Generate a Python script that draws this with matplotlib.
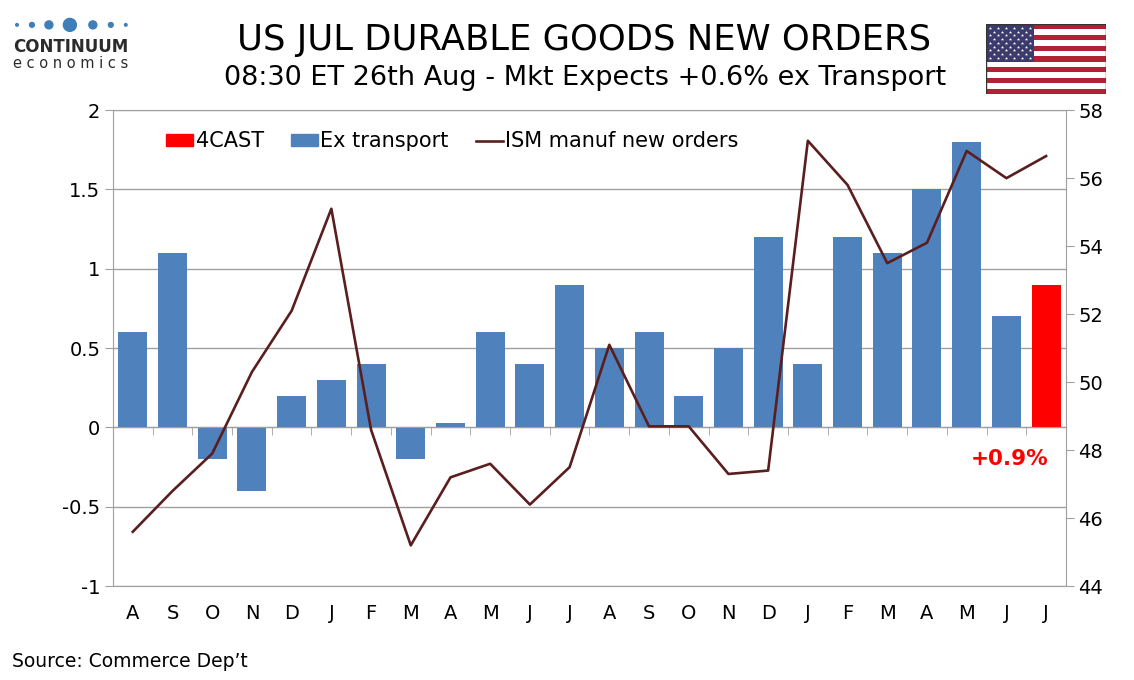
import matplotlib.pyplot as plt
from matplotlib.patches import Patch, Rectangle, Circle
from matplotlib.lines import Line2D

# Datos
meses = ["A", "S", "O", "N", "D", "J", "F", "M", "A", "M", "J", "J",
         "A", "S", "O", "N", "D", "J", "F", "M", "A", "M", "J", "J"]
ex_transport = [0.6, 1.1, -0.2, -0.4, 0.2, 0.3, 0.4, -0.2, 0.03, 0.6, 0.4, 0.9,
                0.5, 0.6, 0.2, 0.5, 1.2, 0.4, 1.2, 1.1, 1.5, 1.8, 0.7]
cast = [0.9]
ism_new_orders = [45.6, 46.8, 47.9, 50.3, 52.1, 55.1, 48.6, 45.2, 47.2, 47.6, 46.4, 47.5,
                  51.1, 48.7, 48.7, 47.3, 47.4, 57.1, 55.8, 53.5, 54.1, 56.8, 56.0, 56.65]
yticks_izq = [-1, -0.5, 0, 0.5, 1, 1.5, 2]
ytick_labels_izq = ["-1", "-0.5", "0", "0.5", "1", "1.5", "2"]
yticks_der = [44, 46, 48, 50, 52, 54, 56, 58]

azul = "#4F81BD"
rojo = "#FF0000"
granate = "#5A1E1E"
gris = "#A0A0A0"

plt.rcParams['font.family'] = ['DejaVu Sans']

fig = plt.figure(figsize=(11.34, 6.8), dpi=100)
ax = fig.add_axes([0.0996, 0.138, 0.8404, 0.7])
ax2 = ax.twinx()

n = len(meses)
x = list(range(n))
ax.bar(x[:len(ex_transport)], ex_transport, width=0.73, color=azul, zorder=2)
ax.bar(x[len(ex_transport):], cast, width=0.73, color=rojo, zorder=2)

ax2.plot(x, ism_new_orders, color=granate, linewidth=1.9)

# eje izquierdo
ax.set_ylim(-1, 2)
ax.set_xlim(-0.5, n - 0.5)
ax.set_yticks(yticks_izq)
ax.set_yticklabels(ytick_labels_izq)
ax.yaxis.grid(True, color=gris, linewidth=1.0, zorder=0)
ax.set_axisbelow(True)
ax.tick_params(axis='y', which='major', direction='out', length=6, color=gris,
               labelsize=14, pad=3)

# eje x en cero con marcas en los límites
ax.spines['bottom'].set_position(('data', 0))
ax.spines['bottom'].set_color(gris)
ax.set_xticks(x)
ax.set_xticklabels([])
ax.tick_params(axis='x', which='major', length=0)
ax.set_xticks([i + 0.5 for i in x[:-1]], minor=True)
ax.tick_params(axis='x', which='minor', direction='out', length=6, color=gris)
for i, m in enumerate(meses):
    ax.text(i, -0.057, m, transform=ax.get_xaxis_transform(), ha='center', va='center',
            fontsize=14)

for s in ['left', 'top']:
    ax.spines[s].set_color(gris)
ax.spines['right'].set_visible(False)

# eje derecho
ax2.set_ylim(44, 58)
ax2.set_yticks(yticks_der)
ax2.tick_params(axis='y', direction='out', length=6, color=gris, labelsize=14, pad=3)
for s in ['left', 'top']:
    ax2.spines[s].set_visible(False)
ax2.spines['right'].set_color(gris)
ax2.spines['bottom'].set_color(gris)

ax2.text(23.05, -0.2, "+0.9%", transform=ax.transData, color=rojo, fontsize=15.5,
         fontweight='bold', ha='right', va='center')

handles = [Patch(color=rojo, label="4CAST"),
           Patch(color=azul, label="Ex transport"),
           Line2D([], [], color=granate, linewidth=1.9, label="ISM manuf new orders")]
ax2.legend(handles=handles, loc='upper left', bbox_to_anchor=(0.036, 0.995), ncol=3,
           frameon=False, fontsize=15, handlelength=1.3, handleheight=0.5,
           handletextpad=0.12, columnspacing=1.3)

# títulos
fig.text(0.515, 0.941, "US JUL DURABLE GOODS NEW ORDERS", ha='center', va='center',
         fontsize=25.5)
fig.text(0.516, 0.886, "08:30 ET 26th Aug - Mkt Expects +0.6% ex Transport",
         ha='center', va='center', fontsize=19.5)
fig.text(0.011, 0.027, "Source: Commerce Dep\u2019t", ha='left', va='center', fontsize=13.5)

# logo
logo = fig.add_axes([0, 0.88, 0.125, 0.12])
logo.set_xlim(0, 142)
logo.set_ylim(82, 0)
logo.axis('off')
for cx, r in [(17, 1.3), (32, 2.4), (49, 4.0), (70, 6.5), (93, 4.0), (111, 2.4), (126, 1.3)]:
    logo.add_patch(Circle((cx, 25), r, color="#3F7EB8"))
logo.text(71, 47, "CONTINUUM", ha='center', va='center', fontsize=12,
          fontweight='bold', color="#2B2B2B")
logo.text(71, 64, "e c o n o m i c s", ha='center', va='center', fontsize=10.5,
          color="#2B2B2B")

# bandera
flag = fig.add_axes([986 / 1134, 1 - 94 / 680, 120 / 1134, 70 / 680])
flag.set_xlim(0, 1.9)
flag.set_ylim(0, 1)
flag.axis('off')
for k in range(13):
    flag.add_patch(Rectangle((0, 1 - (k + 1) / 13), 1.9, 1 / 13,
                             color="#B22234" if k % 2 == 0 else "white", lw=0))
flag.add_patch(Rectangle((0, 6 / 13), 0.76, 7 / 13, color="#3C3B6E", lw=0))
sx, sy = [], []
for row in range(9):
    cols = 6 if row % 2 == 0 else 5
    off = 0.063 if row % 2 == 0 else 0.126
    for c in range(cols):
        sx.append(off + c * 0.126)
        sy.append(1 - 0.054 * (row + 1))
flag.scatter(sx, sy, marker='*', s=6, color='white', linewidths=0)
flag.add_patch(Rectangle((0, 0), 1.9, 1, fill=False, edgecolor="#333333", lw=1))

fig.savefig("out.png", dpi=100)
